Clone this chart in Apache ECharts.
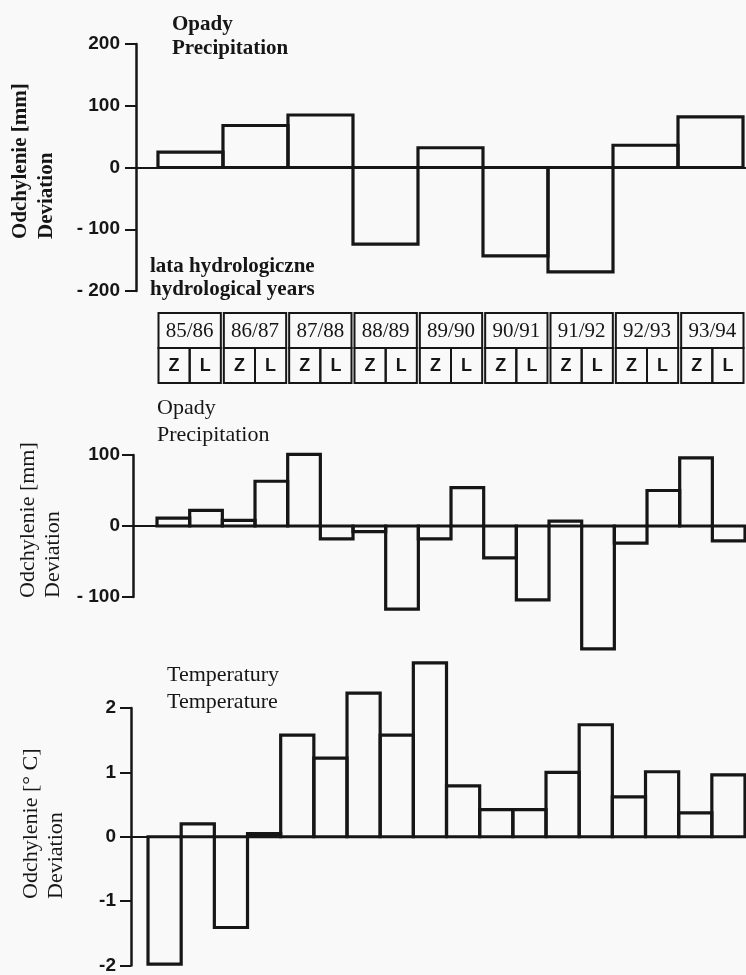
<!DOCTYPE html>
<html><head><meta charset="utf-8">
<script src="https://cdn.jsdelivr.net/npm/echarts@6/dist/echarts.min.js"></script>
<style>html,body{margin:0;padding:0;background:#f9f9f9}#c{width:746px;height:975px}</style>
</head><body><div id="c"></div>
<script>
// ---- data ----
const years = ['85/86','86/87','87/88','88/89','89/90','90/91','91/92','92/93','93/94'];
const seasons = ['Z','L','Z','L','Z','L','Z','L','Z','L','Z','L','Z','L','Z','L','Z','L'];
const annualPrecip = [25, 68, 85, -124, 32, -143, -169, 36, 82];
const seasonalPrecip = [11, 22, 8, 63, 101, -18, -8, -117, -18, 54, -45, -104, 7, -173, -24, 50, 96, -21];
const seasonalTemp = [-1.98, 0.2, -1.41, 0.05, 1.58, 1.22, 2.23, 1.58, 2.7, 0.79, 0.42, 0.42, 1.0, 1.74, 0.62, 1.01, 0.37, 0.96];
const annualTickLabels = ['- 200', '- 100', '0', '100', '200'];
const seasonalTickLabels = ['- 100', '0', '100'];
const tempTickLabels = ['-2', '-1', '0', '1', '2'];

const INK = '#161616';
const chart = echarts.init(document.getElementById('c'), null, {renderer: 'canvas'});

function boxSeries(idx, values, lw) {
  return {
    type: 'custom', xAxisIndex: idx, yAxisIndex: idx, clip: false, z: 3,
    data: values.map((v, i) => [i, v]),
    renderItem(params, api) {
      const i = api.value(0), v = api.value(1);
      const a = api.coord([i, 0]), b = api.coord([i + 1, v]);
      return {type: 'rect',
        shape: {x: a[0], y: Math.min(a[1], b[1]), width: b[0] - a[0], height: Math.max(Math.abs(b[1] - a[1]), 1)},
        style: {fill: 'none', stroke: INK, lineWidth: lw}};
    }
  };
}
function xAx(idx, min, max) {
  return {gridIndex: idx, type: 'value', min, max,
    axisLine: {show: true, onZero: true, lineStyle: {color: INK, width: 2}},
    axisTick: {show: false}, axisLabel: {show: false}, splitLine: {show: false}};
}
function yAx(idx, min, max, interval, labels, margin, fontSize) {
  return {gridIndex: idx, type: 'value', min, max, interval,
    axisLine: {show: true, onZero: false, lineStyle: {color: INK, width: 2.5}},
    axisTick: {show: true, length: 11, lineStyle: {color: INK, width: 2}},
    axisLabel: {margin, color: INK, fontFamily: 'Liberation Sans', fontWeight: 'bold', fontSize,
      formatter: v => labels[Math.round((v - min) / interval)]},
    splitLine: {show: false}};
}
function tableSeries(labels, span, row, font) {
  return {
    type: 'custom', xAxisIndex: 3, yAxisIndex: 3, clip: false, z: 3,
    data: labels.map((_, i) => [i]),
    renderItem(params, api) {
      const i = params.dataIndex;
      const a = api.coord([i * span, row]), b = api.coord([(i + 1) * span, row + 1]);
      let x0 = a[0], x1 = b[0];
      if (span === 2) { x0 += 1.5; x1 -= 1.5; }
      else if (i % 2 === 0) { x0 += 1.5; } else { x1 -= 1.5; }
      return {type: 'group', children: [
        {type: 'rect', shape: {x: x0, y: b[1], width: x1 - x0, height: a[1] - b[1]},
         style: {fill: 'none', stroke: INK, lineWidth: 2}},
        {type: 'text', x: (x0 + x1) / 2, y: (a[1] + b[1]) / 2 + 1,
         style: {text: labels[i], align: 'center', verticalAlign: 'middle', fill: INK, font}}
      ]};
    }
  };
}
function txt(text, x, y, font, rot) {
  return {type: 'text', x, y, rotation: rot || 0, z: 10,
    style: {text, fill: INK, font, align: 'left', verticalAlign: 'middle'}};
}

const serifB = 'bold 21px "Liberation Serif"';
const serif = '22px "Liberation Serif"';

chart.setOption({
  backgroundColor: '#f9f9f9',
  animation: false,
  grid: [
    {left: 136, right: 0, top: 44, height: 247},
    {left: 133, right: 0, top: 455, height: 142},
    {left: 131, right: 0, top: 708, height: 258},
    {left: 157, right: 1, top: 313, height: 70}
  ],
  xAxis: [
    xAx(0, -0.338, 9.046),
    xAx(1, -0.735, 18.03),
    xAx(2, -0.513, 18.03),
    {gridIndex: 3, type: 'value', min: 0, max: 18, show: false}
  ],
  yAxis: [
    yAx(0, -200, 200, 100, annualTickLabels, 16, 19),
    yAx(1, -100, 100, 100, seasonalTickLabels, 13, 19),
    yAx(2, -2, 2, 1, tempTickLabels, 15, 19),
    {gridIndex: 3, type: 'value', min: 0, max: 2, show: false}
  ],
  series: [
    boxSeries(0, annualPrecip, 3.2),
    boxSeries(1, seasonalPrecip, 3.2),
    boxSeries(2, seasonalTemp, 3.2),
    tableSeries(years, 2, 1, '21px "Liberation Serif"'),
    tableSeries(seasons, 1, 0, 'bold 18px "Liberation Sans"')
  ],
  graphic: [
    txt('Opady', 172, 25, serifB),
    txt('Precipitation', 172, 49, serifB),
    txt('lata hydrologiczne', 150, 267, serifB),
    txt('hydrological years', 150, 290, serifB),
    txt('Odchylenie [mm]', 21, 239, serifB, Math.PI / 2),
    txt('Deviation', 47, 239, serifB, Math.PI / 2),
    txt('Opady', 157, 408, serif),
    txt('Precipitation', 157, 435, serif),
    txt('Odchylenie [mm]', 28, 598, serif, Math.PI / 2),
    txt('Deviation', 53, 598, serif, Math.PI / 2),
    txt('Temperatury', 167, 675, serif),
    txt('Temperature', 167, 702, serif),
    txt('Odchylenie [° C]', 31, 899, serif, Math.PI / 2),
    txt('Deviation', 56, 899, serif, Math.PI / 2)
  ]
});
</script></body></html>
